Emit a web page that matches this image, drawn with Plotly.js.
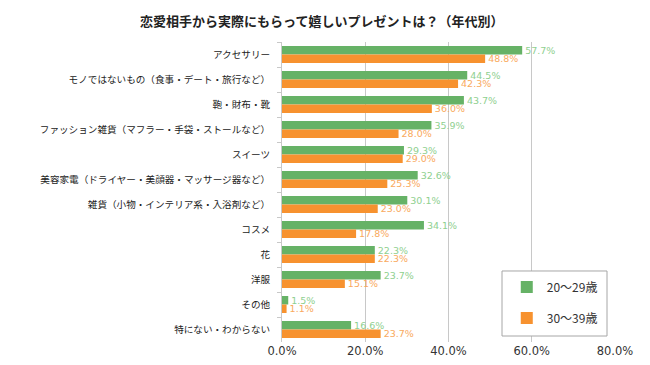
<!DOCTYPE html>
<html><head><meta charset="utf-8">
<script src="https://cdn.plot.ly/plotly-3.0.1.min.js"></script>
<style>html,body{margin:0;padding:0;background:#fff}#c{width:650px;height:365px}</style>
</head><body><div id="c"></div>
<script>
const categories = ["アクセサリー","モノではないもの（食事・デート・旅行など）","鞄・財布・靴","ファッション雑貨（マフラー・手袋・ストールなど）","スイーツ","美容家電（ドライヤー・美顔器・マッサージ器など）","雑貨（小物・インテリア系・入浴剤など）","コスメ","花","洋服","その他","特にない・わからない"];
const age20s = [57.7,44.5,43.7,35.9,29.3,32.6,30.1,34.1,22.3,23.7,1.5,16.6];
const age30s = [48.8,42.3,36.0,28.0,29.0,25.3,23.0,17.8,22.3,15.1,1.1,23.7];
const seriesNames = ["20～29歳","30～39歳"];
const tickVals = [0,20,40,60,80];

const jp = '"Noto Sans CJK JP", sans-serif';
const num = '"DejaVu Sans", Verdana, sans-serif';
const traces = [
  {type:'bar', orientation:'h', name:seriesNames[0], legendgroup:'a', y:categories, x:age20s,
   marker:{color:'#66b266'}, text:age20s.map(v=>v.toFixed(1)+'%'), textposition:'outside', constraintext:'none',
   textfont:{color:'#8fd08f', family:num, size:9.5}, cliponaxis:false},
  {type:'bar', orientation:'h', name:seriesNames[1], legendgroup:'b', y:categories, x:age30s,
   marker:{color:'#f7922f'}, text:age30s.map(v=>v.toFixed(1)+'%'), textposition:'outside', constraintext:'none',
   textfont:{color:'#f9a95d', family:num, size:9.5}, cliponaxis:false}
];
const layout = {
  width:650, height:365,
  margin:{l:282, r:35, t:42, b:23},
  paper_bgcolor:'#fff', plot_bgcolor:'#fff',
  title:{text:'<b>恋愛相手から実際にもらって嬉しいプレゼントは？（年代別）</b>', x:0.495, xanchor:'center', y:0.955, font:{family:jp, size:13, color:'#222'}},
  barmode:'group', bargap:0.32, bargroupgap:0,
  xaxis:{range:[0,80], tickvals:tickVals, ticktext:tickVals.map(v=>v.toFixed(1)+'%'),
    showgrid:true, gridcolor:'#c8c8c8', gridwidth:1, zeroline:false, showline:false,
    ticks:'', tickfont:{family:num, size:11.5, color:'#333'}, fixedrange:true},
  yaxis:{autorange:'reversed', showline:true, linecolor:'#c8c8c8', ticks:'outside', tickson:'boundaries',
    ticklen:4, tickcolor:'#c8c8c8', tickfont:{family:jp, size:9.6, color:'#222'}, ticklabelstandoff:9},
  legend:{x:0.675, y:0.232, xanchor:'left', yanchor:'top', borderwidth:0, itemwidth:30,
    bgcolor:'rgba(0,0,0,0)', font:{family:jp, size:12, color:'#333'}, tracegroupgap:12, traceorder:'grouped'},
  shapes:[{type:'rect', xref:'paper', yref:'paper', x0:0.6607, x1:0.976, y0:0.02, y1:0.2367,
    line:{color:'#a6a6a6', width:1}, fillcolor:'#fff', layer:'above'}],
  showlegend:true
};
Plotly.newPlot('c', traces, layout, {staticPlot:true});
</script></body></html>
